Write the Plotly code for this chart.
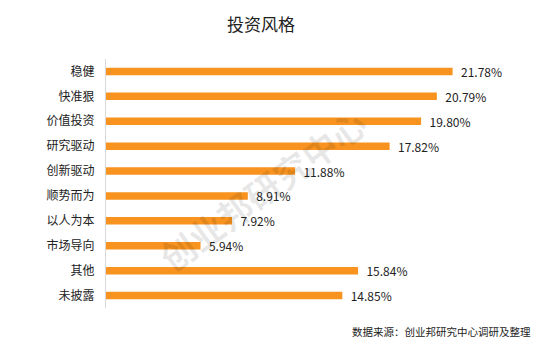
import plotly.graph_objects as go

categories = ["稳健", "快准狠", "价值投资", "研究驱动", "创新驱动", "顺势而为", "以人为本", "市场导向", "其他", "未披露"]
values = [21.78, 20.79, 19.80, 17.82, 11.88, 8.91, 7.92, 5.94, 15.84, 14.85]
labels = ["21.78%", "20.79%", "19.80%", "17.82%", "11.88%", "8.91%", "7.92%", "5.94%", "15.84%", "14.85%"]

FONT = "Noto Sans CJK SC, Microsoft YaHei, sans-serif"

W, H = 550, 358
L, R, T, B = 106, 0, 58.5, 49.5
PW, PH = W - L - R, H - T - B

def px(x):
    return (x - L) / PW

def py(y):
    return (H - B - y) / PH

fig = go.Figure(go.Bar(
    y=categories, x=values, orientation="h",
    marker=dict(color="#F7931E", line=dict(width=0)),
    text=["  " + t for t in labels], textposition="outside",
    constraintext="none",
    textfont=dict(size=12, color="#222", family=FONT),
    cliponaxis=False,
    hoverinfo="skip",
))

fig.update_layout(
    width=W, height=H,
    margin=dict(l=L, r=R, t=T, b=B, autoexpand=False),
    plot_bgcolor="white", paper_bgcolor="white",
    bargap=0.7,
    showlegend=False,
    font=dict(family=FONT, size=12, color="#222"),
    title=dict(text="投资风格", x=261/550, xanchor="center", y=1-25/358, yanchor="middle",
               font=dict(size=17, color="#222", family=FONT)),
    xaxis=dict(range=[0, 27.9], visible=False, showgrid=False, zeroline=False),
    yaxis=dict(autorange="reversed", showline=True, linecolor="#D9D9D9", linewidth=1,
               ticks="", showgrid=False, ticklabelstandoff=8,
               tickfont=dict(size=12, color="#222", family=FONT)),
    annotations=[
        dict(text="数据来源：创业邦研究中心调研及整理", xref="paper", yref="paper",
             x=px(533), y=py(332), xanchor="right", yanchor="middle",
             showarrow=False, font=dict(size=10.5, color="#222", family=FONT)),
        dict(text="<b>创业邦研究中心</b>", xref="paper", yref="paper",
             x=px(262), y=py(190), xanchor="center", yanchor="middle",
             showarrow=False, textangle=-36,
             font=dict(size=35, color="rgba(0,0,0,0.09)", family=FONT)),
    ],
)

fig.write_html("out.html", config={"displayModeBar": False},
               post_script="document.body.style.margin='0';document.body.style.overflow='hidden';")
